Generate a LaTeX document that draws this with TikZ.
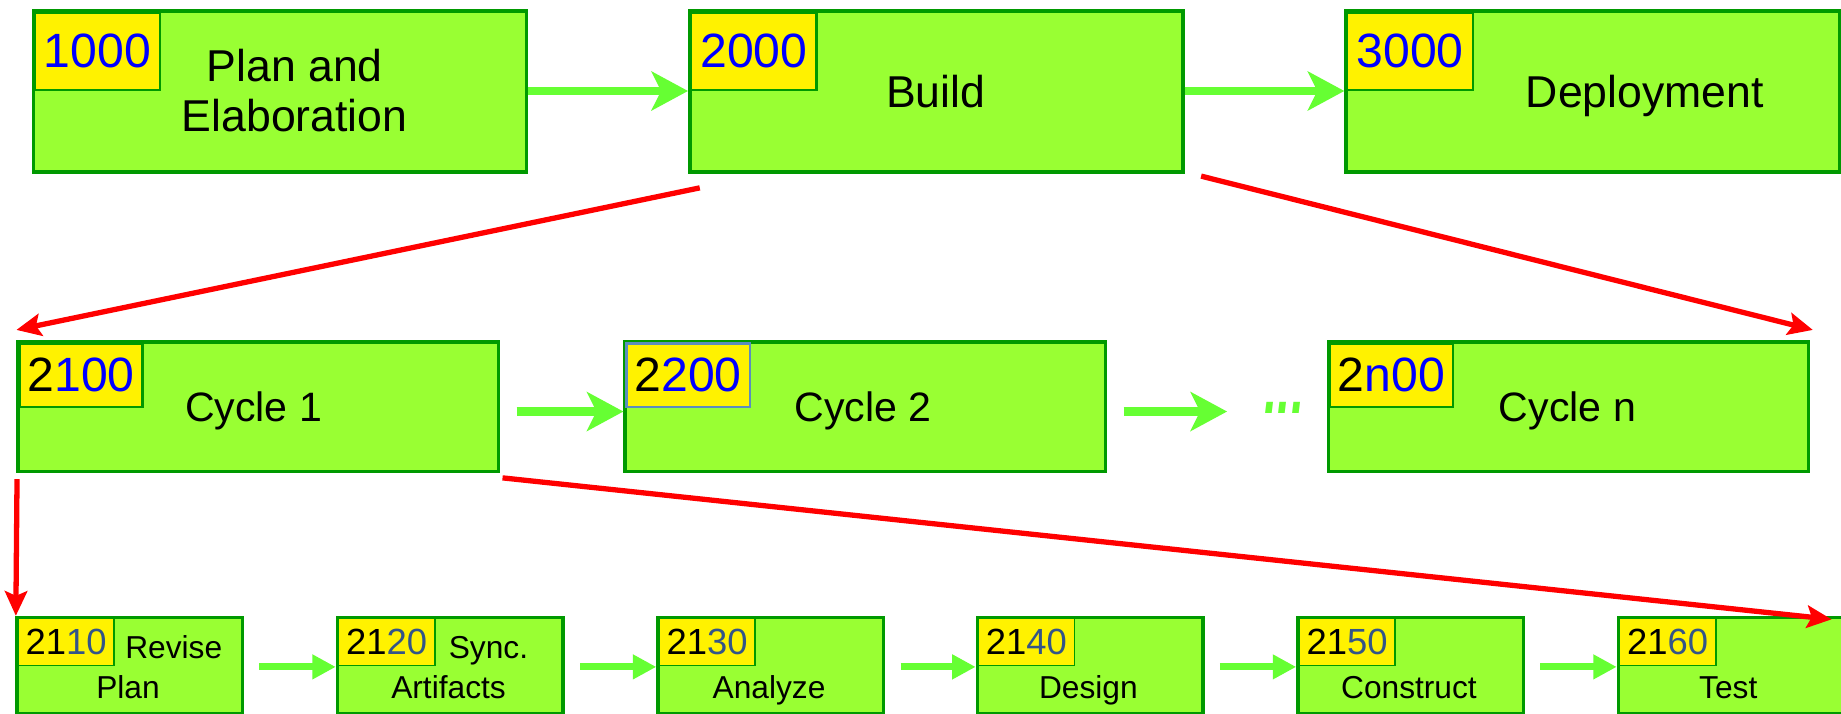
\documentclass[tikz,border=0pt]{standalone}
\usepackage{fontspec}
\setmainfont{Liberation Sans}
\usetikzlibrary{arrows.meta}
\definecolor{boxfill}{HTML}{99FF33}
\definecolor{boxline}{HTML}{009900}
\definecolor{arrowgreen}{HTML}{66FF33}
\definecolor{numblue}{HTML}{0000FF}
\definecolor{numslate}{HTML}{335588}
\definecolor{tagsteel}{HTML}{5B8DBE}
\begin{document}
\begin{tikzpicture}[x=1pt,y=-1pt,
  bx/.style={draw=boxline, fill=boxfill, line width=3pt, rectangle, inner sep=0pt, anchor=north west},
  bxa/.style={bx, minimum width=420pt, minimum height=137pt},
  bxb/.style={bx, minimum width=409pt, minimum height=110pt},
  bxc/.style={bx, minimum width=192pt, minimum height=82pt},
  tg/.style={draw=boxline, fill=yellow, rectangle, inner sep=0pt, anchor=north west, text=numblue},
  tga/.style={tg, line width=2pt, minimum width=107pt, minimum height=66pt, font={\fontsize{41}{41}\selectfont}},
  tgb/.style={tg, line width=2pt, minimum width=105pt, minimum height=54pt, font={\fontsize{41}{41}\selectfont}},
  tgc/.style={tg, line width=1.5pt, minimum width=82pt, minimum height=40pt, font={\fontsize{31}{31}\selectfont}, text=numslate},
  lba/.style={inner sep=0pt, font={\fontsize{38}{42.5}\selectfont}, align=center},
  lbb/.style={inner sep=0pt, font={\fontsize{35}{35}\selectfont}, anchor=base},
  lbc/.style={inner sep=0pt, font={\fontsize{27}{27}\selectfont}, anchor=base},
  garrow/.style={draw=arrowgreen, line width=7pt, -{Stealth[length=31pt,width=33pt,inset=8pt]}},
  barrow/.style={draw=arrowgreen, line width=6pt, -{Triangle[length=20pt,width=20pt]}},
  rarrow/.style={draw=red, line width=4.5pt, -{Stealth[length=21pt,width=19pt,inset=4pt]}}
]
\useasboundingbox (0,0) rectangle (1568,607.3);
\clip (0,0) rectangle (1568,607.3);

% ---- row 1
\node[bxa] (b1000) at (27,8) {};
\node[bxa] (b2000) at (586,8) {};
\node[bxa] (b3000) at (1145,8) {};
\node[tga] (t1000) at ([shift={(1.5,1.5)}]b1000.north west) {1000};
\node[tga] (t2000) at ([shift={(1.5,1.5)}]b2000.north west) {2000};
\node[tga] (t3000) at ([shift={(1.5,1.5)}]b3000.north west) {3000};
\node[lba] (l1000) at (251,77.3) {Plan and\\Elaboration};
\node[lba, anchor=base] (l2000) at (797,91.5) {Build};
\node[lba, anchor=base] (l3000) at (1401,91.5) {Deployment};

% ---- row 2
\node[bxb] (b2100) at (14,290) {};
\node[bxb] (b2200) at (531,290) {};
\node[bxb] (b2n00) at (1130,290) {};
\node[tgb] (t2100) at ([shift={(1.5,1.5)}]b2100.north west) {\textcolor{black}{2}100};
\node[tgb, draw=tagsteel] (t2200) at ([shift={(1.5,1.5)}]b2200.north west) {\textcolor{black}{2}200};
\node[tgb] (t2n00) at ([shift={(1.5,1.5)}]b2n00.north west) {\textcolor{black}{2}n00};
\node[lbb] (l2100) at (216,359) {Cycle 1};
\node[lbb] (l2200) at (735,359) {Cycle 2};
\node[lbb] (l2n00) at (1335,359) {Cycle n};
\node[inner sep=0pt, anchor=base, text=arrowgreen, font={\fontsize{40}{40}\selectfont\bfseries\itshape}] (dots) at (1094,352) {\scalebox{1}[1.6]{...}};

% ---- row 3
\node[bxc] (b2110) at (13,524.5) {};
\node[bxc] (b2120) at (286,524.5) {};
\node[bxc] (b2130) at (559,524.5) {};
\node[bxc] (b2140) at (831,524.5) {};
\node[bxc] (b2150) at (1104,524.5) {};
\node[bxc] (b2160) at (1377,524.5) {};
\node[tgc] (t2110) at ([shift={(1.5,1.5)}]b2110.north west) {\textcolor{black}{21}10};
\node[tgc] (t2120) at ([shift={(1.5,1.5)}]b2120.north west) {\textcolor{black}{21}20};
\node[tgc] (t2130) at ([shift={(1.5,1.5)}]b2130.north west) {\textcolor{black}{21}30};
\node[tgc] (t2140) at ([shift={(1.5,1.5)}]b2140.north west) {\textcolor{black}{21}40};
\node[tgc] (t2150) at ([shift={(1.5,1.5)}]b2150.north west) {\textcolor{black}{21}50};
\node[tgc] (t2160) at ([shift={(1.5,1.5)}]b2160.north west) {\textcolor{black}{21}60};
\node[lbc] (r2110) at (148,561) {Revise};
\node[lbc] (r2120) at (416,561) {Sync.};
\node[lbc] (l2110) at (109,595) {Plan};
\node[lbc] (l2120) at (382,595) {Artifacts};
\node[lbc] (l2130) at (655,595) {Analyze};
\node[lbc] (l2140) at (927,595) {Design};
\node[lbc] (l2150) at (1200,595) {Construct};
\node[lbc] (l2160) at (1472,595) {Test};

% ---- green connectors
\draw[garrow] (b1000.east |- t1000.south) -- (b2000.west |- t1000.south);
\draw[garrow] (b2000.east |- t2000.south) -- (b3000.west |- t2000.south);
\draw[garrow] ([shift={(14,4)}]b2100.east) -- ([shift={(0,4)}]b2200.west);
\draw[garrow] ([shift={(14,4)}]b2200.east) -- ([shift={(-32,4)}]dots.west |- b2200.east);
\foreach \a/\b in {b2110/b2120, b2120/b2130, b2130/b2140, b2140/b2150, b2150/b2160}
  \draw[barrow] ([xshift=13pt]\a.north east |- 0,568) -- (\b.north west |- 0,568);

% ---- red connectors
\draw[rarrow] ([shift={(10,12)}]b2000.south west) -- ([shift={(0,-9)}]b2100.north west);
\draw[rarrow] ([shift={(14,2)}]b2000.south east) -- ([shift={(2,-9)}]b2n00.north east);
\draw[rarrow] ([shift={(0.5,5)}]b2100.south west) -- ([shift={(0.5,0)}]b2110.north west);
\draw[rarrow] ([shift={(2,4)}]b2100.south east) -- ([shift={(-12,3)}]b2160.north east);
\end{tikzpicture}
\end{document}
